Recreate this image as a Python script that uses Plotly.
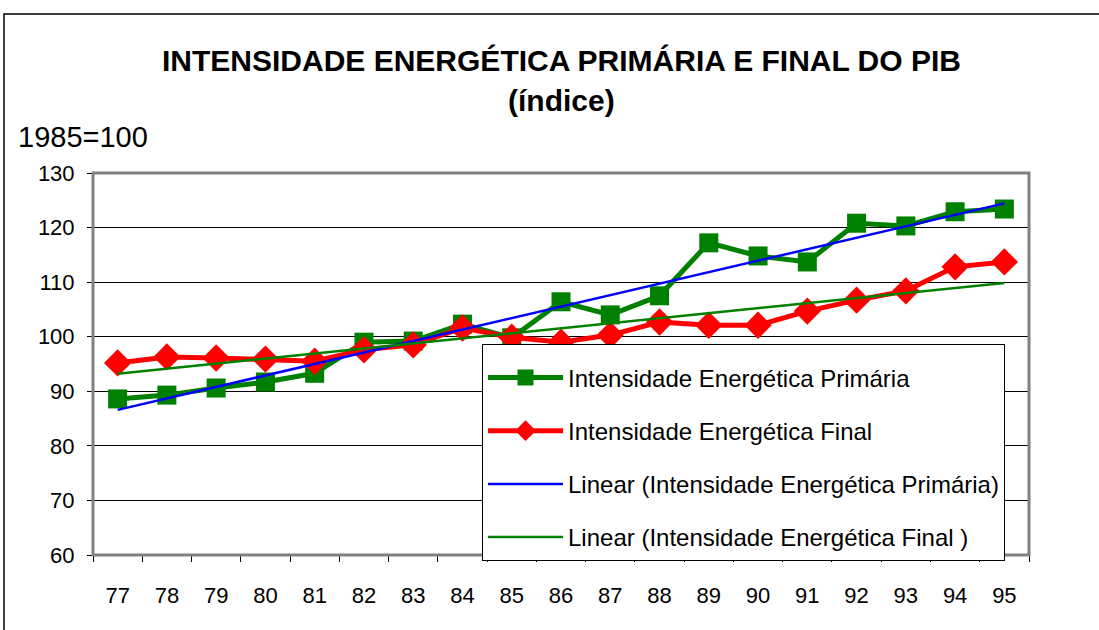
import numpy as np
import plotly.graph_objects as go

# Anos (1977-1995) e índices 1985=100
anos = ["77", "78", "79", "80", "81", "82", "83", "84", "85", "86",
        "87", "88", "89", "90", "91", "92", "93", "94", "95"]
primaria = [88.6, 89.3, 90.6, 91.7, 93.3, 99.0, 99.2, 102.3, 99.8, 106.4,
            104.0, 107.5, 117.2, 114.8, 113.7, 120.8, 120.3, 122.9, 123.4]
final = [95.2, 96.3, 96.1, 95.9, 95.5, 97.6, 98.5, 101.6, 99.9, 99.0,
         100.3, 102.7, 102.1, 102.1, 104.7, 106.7, 108.4, 112.8, 113.7]

# Tendências lineares (como no Excel)
idx = np.arange(len(anos))
tend_prim = np.polyval(np.polyfit(idx, primaria, 1), idx)
tend_fin = np.polyval(np.polyfit(idx, final, 1), idx)

font = "Liberation Sans, Arial, sans-serif"

fig = go.Figure()
fig.add_trace(go.Scatter(x=anos, y=primaria, mode="lines+markers",
                         name="Intensidade Energética Primária", legendgroup="a",
                         line=dict(color="#008000", width=5),
                         marker=dict(symbol="square", size=19, color="#008000")))
fig.add_trace(go.Scatter(x=anos, y=final, mode="lines+markers",
                         name="Intensidade Energética Final", legendgroup="b",
                         line=dict(color="#FF0000", width=5),
                         marker=dict(symbol="diamond", size=21, color="#FF0000")))
fig.add_trace(go.Scatter(x=anos, y=tend_prim, mode="lines",
                         name="Linear (Intensidade Energética Primária)", legendgroup="c",
                         line=dict(color="#0000FF", width=2.5)))
fig.add_trace(go.Scatter(x=anos, y=tend_fin, mode="lines",
                         name="Linear (Intensidade Energética Final )", legendgroup="d",
                         line=dict(color="#008000", width=2.5)))

fig.update_layout(
    width=1099, height=630,
    margin=dict(l=93, r=70, t=173, b=75),
    paper_bgcolor="white", plot_bgcolor="white",
    font=dict(family=font, size=22, color="black"),
    showlegend=True,
    legend=dict(x=0.4156, y=0.5524, xanchor="left", yanchor="top",
                bgcolor="white", bordercolor="black", borderwidth=1,
                font=dict(size=24), itemwidth=75, tracegroupgap=19,
                traceorder="grouped",
                title=dict(text="&#160;", font=dict(size=8))),
    annotations=[
        dict(text="<b>INTENSIDADE ENERGÉTICA PRIMÁRIA E FINAL DO PIB</b>",
             xref="paper", yref="paper", x=0.5, y=1.2958, xanchor="center",
             yanchor="middle", showarrow=False, font=dict(size=30)),
        dict(text="<b>(índice)</b>", xref="paper", yref="paper", x=0.5, y=1.191, xanchor="center",
             yanchor="middle", showarrow=False, font=dict(size=30)),
        dict(text="1985=100", xref="paper", yref="paper", x=-0.0825, y=1.094,
             xanchor="left", yanchor="middle", showarrow=False, font=dict(size=29)),
    ],
    shapes=[
        dict(type="rect", xref="paper", yref="paper", x0=0, x1=1, y0=0, y1=1,
             line=dict(color="#808080", width=3), layer="above"),
        dict(type="rect", xref="paper", yref="paper", x0=-0.0951, x1=1.2, y0=-0.3, y1=1.4162,
             line=dict(color="black", width=1.5)),
    ],
)
fig.update_xaxes(type="category", range=[-0.5, 18.5], showgrid=False,
                 showline=True, linecolor="black", linewidth=1,
                 ticks="outside", tickson="boundaries", ticklen=6, tickcolor="black",
                 tickfont=dict(size=22), ticklabelstandoff=21)
fig.update_yaxes(range=[60, 130], dtick=10, showgrid=True, gridcolor="black", gridwidth=1,
                 showline=True, linecolor="black", linewidth=1, zeroline=False,
                 ticks="outside", ticklen=5, tickcolor="black", tickfont=dict(size=22),
                 ticklabelstandoff=8)

# sem a margem de 8px do body, para o gráfico ocupar a janela toda
fig.write_html("out.html", config={"displayModeBar": False},
               post_script="document.body.style.margin='0';")
